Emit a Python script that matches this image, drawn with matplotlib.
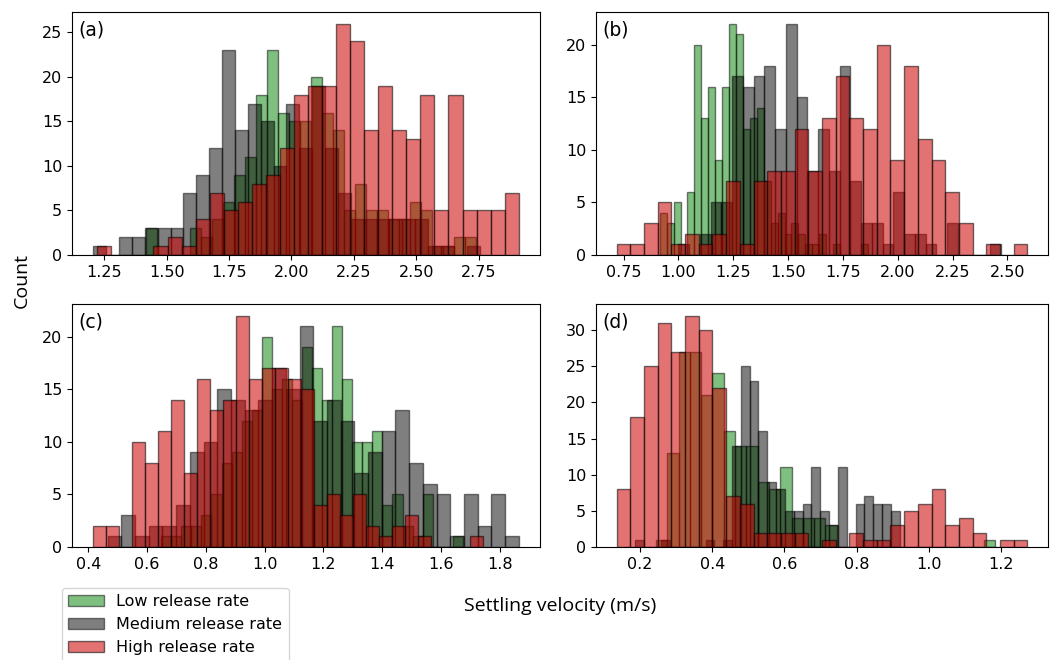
import matplotlib
matplotlib.use("Agg")
import matplotlib.pyplot as plt
import numpy as np
from matplotlib.ticker import MultipleLocator
from matplotlib.patches import Patch

plt.rcParams.update({"font.size": 11.5, "font.family": "DejaVu Sans"})

# per-panel bin ranges (lo, hi) and counts for 30 equal bins per series
green_a_rng = (1.418, 2.738)
green_a = [3, 0, 0, 0, 3, 2, 4, 6, 9, 11, 18, 23, 16, 15, 15, 20, 16, 14, 5, 8,
           5, 5, 4, 4, 6, 5, 1, 1, 2, 2]
gray_a_rng = (1.206, 2.754)
gray_a = [1, 0, 2, 2, 3, 3, 3, 7, 9, 12, 23, 14, 17, 15, 10, 17, 12, 19, 12, 7,
          4, 4, 4, 4, 4, 4, 1, 1, 0, 1]
red_a_rng = (1.222, 2.911)
red_a = [1, 0, 0, 0, 1, 2, 1, 4, 7, 5, 6, 8, 9, 12, 18, 19, 19, 26, 24, 14,
         19, 14, 13, 18, 5, 18, 5, 5, 5, 7]

green_b_rng = (0.915, 1.863)
green_b = [4, 3, 5, 0, 6, 20, 13, 16, 9, 16, 22, 21, 12, 13, 14, 7, 3, 4, 2, 3,
           2, 1, 1, 2, 0, 1, 0, 0, 0, 1]
gray_b_rng = (1.0, 2.47)
gray_b = [1, 0, 2, 5, 5, 17, 16, 17, 18, 12, 22, 15, 8, 12, 8, 18, 7, 3, 3, 1,
          6, 2, 2, 1, 0, 3, 0, 0, 0, 1]
red_b_rng = (0.718, 2.591)
red_b = [1, 1, 3, 5, 1, 2, 1, 2, 7, 1, 7, 8, 8, 12, 8, 13, 17, 13, 12, 20,
         9, 18, 11, 9, 6, 3, 0, 1, 0, 1]

green_c_rng = (0.648, 1.674)
green_c = [1, 1, 2, 2, 3, 5, 8, 9, 12, 13, 20, 15, 16, 14, 19, 17, 14, 21, 16, 10,
           10, 11, 4, 5, 2, 1, 5, 0, 0, 1]
gray_c_rng = (0.466, 1.864)
gray_c = [1, 3, 1, 2, 2, 4, 9, 10, 15, 14, 13, 14, 17, 15, 21, 12, 14, 12, 7, 9,
          11, 13, 8, 6, 5, 1, 5, 2, 5, 1]
red_c_rng = (0.417, 1.743)
red_c = [2, 2, 0, 10, 8, 11, 14, 7, 16, 13, 14, 22, 16, 17, 17, 16, 15, 4, 5, 3,
         5, 2, 1, 2, 3, 1, 0, 0, 0, 1]

green_d_rng = (0.244, 1.183)
green_d = [1, 13, 27, 27, 21, 24, 16, 14, 14, 9, 8, 11, 4, 4, 4, 3, 0, 0, 0, 0,
           0, 0, 0, 0, 0, 0, 0, 0, 0, 1]
gray_d_rng = (0.186, 0.919)
gray_d = [1, 0, 0, 1, 0, 0, 0, 0, 1, 0, 1, 14, 25, 23, 16, 9, 8, 5, 5, 6,
          11, 5, 3, 11, 0, 6, 7, 6, 6, 5]
red_d_rng = (0.135, 1.273)
red_d = [8, 18, 25, 31, 27, 32, 30, 22, 7, 6, 2, 2, 2, 2, 0, 1, 0, 2, 1, 1,
         3, 5, 6, 8, 3, 4, 2, 0, 1, 1]

panels = [
    ("(a)", [(green_a_rng, green_a), (gray_a_rng, gray_a), (red_a_rng, red_a)], 0.25),
    ("(b)", [(green_b_rng, green_b), (gray_b_rng, gray_b), (red_b_rng, red_b)], 0.25),
    ("(c)", [(green_c_rng, green_c), (gray_c_rng, gray_c), (red_c_rng, red_c)], 0.2),
    ("(d)", [(green_d_rng, green_d), (gray_d_rng, gray_d), (red_d_rng, red_d)], 0.2),
]
labels = ["Low release rate", "Medium release rate", "High release rate"]
styles = [("green", 0.5), ("black", 0.5), ("#cc0000", 0.55)]

fig = plt.figure(figsize=(10.53, 6.6), dpi=100)
W, H = 1053, 660
boxes = [(72, 12, 540, 255), (596, 12, 1048, 255),
         (72, 304, 540, 547), (596, 304, 1048, 547)]

for (tag, series, step), (x0, y0, x1, y1) in zip(panels, boxes):
    ax = fig.add_axes([x0 / W, 1 - y1 / H, (x1 - x0) / W, (y1 - y0) / H])
    for ((lo, hi), counts), (c, a) in zip(series, styles):
        edges = np.linspace(lo, hi, len(counts) + 1)
        ax.hist(edges[:-1], bins=edges, weights=counts, color=c, alpha=a,
                edgecolor="black", linewidth=1.0)
    ax.xaxis.set_major_locator(MultipleLocator(step))
    ax.yaxis.set_major_locator(MultipleLocator(5))
    ax.text(0.013, 0.967, tag, transform=ax.transAxes, ha="left", va="top",
            fontsize=13.5)

handles = [Patch(facecolor=c, alpha=a, edgecolor="black", label=l)
           for (c, a), l in zip(styles, labels)]
fig.legend(handles=handles, loc="upper left", bbox_to_anchor=(62 / W, 1 - 588 / H),
           fontsize=11.5, borderaxespad=0, handlelength=2.2)

fig.text(0.021, 1 - 280 / H, "Count", rotation=90, ha="center", va="center",
         fontsize=14, family="Open Sans")
fig.text(560 / W, 1 - 606 / H, "Settling velocity (m/s)", ha="center",
         va="center", fontsize=14, family="Open Sans")

fig.savefig("out.png", dpi=100)
